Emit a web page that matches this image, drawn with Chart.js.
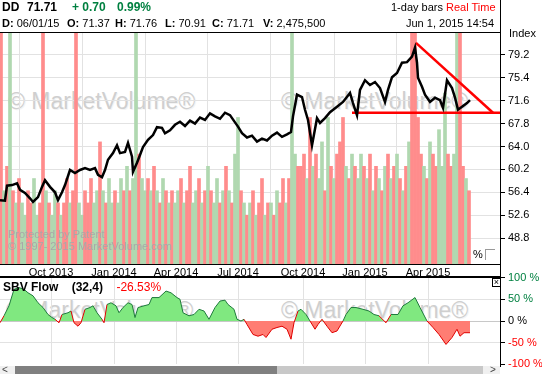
<!DOCTYPE html>
<html>
<head>
<meta charset="utf-8">
<script src="https://cdn.jsdelivr.net/npm/chart.js@4.4.1/dist/chart.umd.min.js"></script>
<style>
  body { margin: 0; width: 542px; height: 374px; position: relative; overflow: hidden; background: #fff;
         font-family: "Liberation Sans", Arial, sans-serif; }
  .abs { position: absolute; white-space: nowrap; line-height: 1; }
  canvas { position: absolute; left: 0; }
  .wm { position: absolute; font-size: 23px; color: #cfcfcf; text-shadow: 1px 1px 0 #f4f4f4; white-space: nowrap; }
  .b { font-weight: bold; }
</style>
</head>
<body>
<div class="wm" style="left:8px;top:88px">© MarketVolume®</div>
<div class="wm" style="left:281px;top:88px">© MarketVolume®</div>
<div class="wm" style="left:6px;top:297px">© MarketVolume®</div>
<div class="wm" style="left:281px;top:297px">© MarketVolume®</div>

<canvas id="price-chart" width="542" height="277" style="top:0"></canvas>
<canvas id="sbv-chart" width="542" height="106" style="top:268px"></canvas>

<!-- header -->
<div class="abs b" style="left:2px;top:1px;font-size:12px">DD</div>
<div class="abs b" style="left:27px;top:1px;font-size:12px">71.71</div>
<div class="abs b" style="left:72px;top:1px;font-size:12px;color:#008040">+ 0.70</div>
<div class="abs b" style="left:117px;top:1px;font-size:12px;color:#008040">0.99%</div>
<div class="abs" style="left:2px;top:18px;font-size:11px"><b>D:</b> 06/01/15</div>
<div class="abs" style="left:67px;top:18px;font-size:11px"><b>O:</b> 71.37</div>
<div class="abs" style="left:115px;top:18px;font-size:11px"><b>H:</b> 71.76</div>
<div class="abs" style="left:165px;top:18px;font-size:11px"><b>L:</b> 70.91</div>
<div class="abs" style="left:212px;top:18px;font-size:11px"><b>C:</b> 71.71</div>
<div class="abs" style="left:263px;top:18px;font-size:11px"><b>V:</b> 2,475,500</div>
<div class="abs" style="left:391px;top:2px;font-size:11px">1-day bars <span style="color:#ff0000">Real Time</span></div>
<div class="abs" style="left:406px;top:18px;font-size:11px">Jun 1, 2015 14:54</div>
<div class="abs" style="left:509px;top:28px;font-size:11px">Index</div>

<div class="abs" style="left:8px;top:229px;font-size:11px;color:#a8a8a8">Protected by Patent</div>
<div class="abs" style="left:8px;top:241px;font-size:11px;color:#a8a8a8">© 1997- 2015 MarketVolume.com</div>
<div class="abs" style="left:473px;top:249px;font-size:11px">%</div>
<div class="abs" style="left:485px;top:249px;width:9px;height:10px;border:1px solid #999;border-right:0;border-bottom:0;background:#fff"></div>

<div class="abs" style="left:3px;top:281px;font-size:12px"><b>SBV Flow</b>&nbsp;&nbsp;&nbsp; <b>(32,4)</b>&nbsp;&nbsp;&nbsp; <span style="color:#ff0000">-26.53%</span></div>
<div class="abs" style="left:492px;top:278px;width:7px;height:7px;border:1px solid #000;font-size:9px;text-align:center;line-height:7px;background:#fff">×</div>

<!-- frame -->
<div class="abs" style="left:0;top:32px;width:501px;height:1px;background:#000"></div>
<div class="abs" style="left:500px;top:0;width:1px;height:367px;background:#000"></div>
<div class="abs" style="left:0;top:276px;width:501px;height:2px;background:#000"></div>

<!-- scrollbar -->
<div class="abs" style="left:0;top:366px;width:500px;height:8px;background:#f0f0f0"></div>
<div class="abs" style="left:15px;top:366px;width:262px;height:8px;background:#808080"></div>
<div class="abs" style="left:277px;top:366px;width:206px;height:8px;background:#c8c8c8"></div>
<div class="abs" style="left:2px;top:365px;font-size:10px;color:#444">&lt;</div>
<div class="abs" style="left:490px;top:365px;font-size:10px;color:#444">&gt;</div>

<script>
// trading-day index on x, ~1 px per day
const monthTickDays = [51, 114, 176, 238, 303, 365, 428];
const monthTickLabels = ["Oct 2013", "Jan 2014", "Apr 2014", "Jul 2014", "Oct 2014", "Jan 2015", "Apr 2015"];
const priceTicks = [48.8, 52.6, 56.4, 60.2, 64.0, 67.8, 71.6, 75.4, 79.2];
const sbvTicks = [-100, -50, 0, 50, 100];

const priceDay = [0, 5, 7, 12, 17, 20, 25, 30, 33, 38, 42, 45, 50, 55, 58, 62, 65, 70, 75, 80,
  85, 90, 95, 98, 102, 105, 108, 113, 117, 120, 125, 128, 132, 133, 137, 140, 143, 148, 153, 157,
  162, 165, 170, 175, 180, 185, 190, 195, 200, 205, 210, 215, 220, 225, 230, 235, 238, 242, 247, 252,
  257, 262, 267, 272, 277, 282, 287, 291, 293, 297, 302, 305, 308, 312, 317, 320, 325, 330, 337, 343,
  350, 353, 357, 360, 365, 370, 375, 380, 385, 388, 392, 397, 402, 407, 412, 415, 417, 418, 422, 425,
  430, 435, 440, 443, 447, 452, 455, 458, 462, 467, 470];
const priceClose = [55.1, 55.0, 57.5, 57.6, 57.9, 56.8, 56.3, 55.4, 54.8, 55.6, 57.3, 58.4, 57.3, 56.4, 55.1, 56.4, 57.6, 60.1, 59.6, 60.1,
  60.4, 60.1, 60.4, 59.3, 58.9, 60.1, 61.8, 62.9, 64.2, 62.9, 63.1, 64.6, 62.3, 59.8, 61.3, 62.6, 63.9, 65.1, 65.9, 67.2,
  67.1, 66.2, 66.7, 67.6, 68.1, 67.4, 68.3, 67.8, 68.8, 68.4, 69.5, 69.0, 68.6, 69.6, 69.2, 68.0, 67.3, 66.2, 65.5, 65.8,
  64.8, 65.3, 65.0, 65.8, 66.3, 65.6, 66.0, 66.4, 69.0, 72.6, 72.2, 70.1, 68.4, 64.2, 68.7, 67.9, 68.7, 69.7, 70.6, 71.4,
  72.9, 71.2, 69.2, 73.4, 75.0, 74.2, 74.7, 73.7, 71.4, 73.4, 75.5, 76.2, 77.9, 78.0, 78.9, 80.4, 77.9, 75.4, 73.9, 72.6,
  71.4, 72.1, 71.7, 70.4, 75.0, 73.7, 72.1, 70.1, 70.6, 71.2, 71.7];

// red trend lines
const supportDay = [352, 500];
const supportLevel = [69.6, 69.6];
const resistDay = [416, 493];
const resistLevel = [81.2, 69.6];

// volume in millions, one bar per 3 trading days; u = up day, d = down day
const volume = [22, 6, 8, 22, 6, 5, 7, 5, 4, 6,
  5, 7, 4, 5, 22, 6, 5, 4, 6, 5,
  4, 5, 7, 5, 6, 22, 5, 4, 6, 5,
  7, 5, 6, 10, 6, 5, 7, 5, 6, 5,
  7, 6, 8, 6, 7, 22, 9, 7, 6, 7,
  6, 8, 6, 5, 7, 6, 5, 6, 5, 6,
  7, 5, 6, 8, 5, 6, 7, 5, 6, 8,
  6, 5, 7, 5, 6, 8, 6, 5, 9, 12,
  6, 5, 4, 5, 6, 4, 5, 7, 4, 5,
  5, 4, 6, 5, 7, 5, 7, 22, 9, 8,
  8, 9, 7, 12, 8, 9, 7, 10, 6, 12,
  8, 7, 9, 10, 12, 8, 7, 9, 8, 7,
  9, 8, 7, 9, 6, 8, 7, 6, 8, 9,
  7, 8, 9, 7, 6, 8, 10, 22, 22, 12,
  9, 8, 7, 10, 9, 8, 11, 8, 14, 9,
  8, 9, 22, 22, 8, 7, 6];
const volDir = "dudududuud" + "duudduduud" + "uddudduudd" + "duududuudu" + "ududuuduud" +
  "ududududuu" + "dudduududu" + "duudududuu" + "dudududdud" + "ududduduud" +
  "ddududuudu" + "dudddududu" + "ududududud" + "ududududdd" + "dududduuud" + "duuddud";

const sbvDay = [0, 4, 9, 14, 19, 24, 28, 33, 38, 43, 48, 52, 55, 59, 62, 68, 71, 74, 78, 81,
  85, 90, 93, 97, 102, 104, 107, 111, 116, 119, 123, 128, 132, 135, 138, 144, 149, 152, 159, 166,
  171, 177, 180, 183, 189, 194, 199, 204, 209, 215, 220, 225, 228, 234, 237, 241, 244, 247, 253, 258,
  263, 266, 272, 277, 282, 287, 291, 294, 298, 301, 306, 310, 315, 318, 322, 327, 332, 337, 343, 346,
  351, 356, 363, 369, 374, 379, 386, 391, 398, 403, 408, 415, 420, 427, 433, 439, 446, 452, 457, 460,
  464, 470];
const sbvValue = [-4, 12, 35, 73, 77, 73, 65, 58, 42, 31, 15, 8, 4, -4, 15, 19, 23, -4, -12, -4,
  27, 31, 35, 19, 4, -4, 38, 42, 35, 19, 31, 42, 38, 8, 31, 35, 38, 54, 54, 69,
  65, 54, 50, 19, 12, 15, 27, 23, 4, 31, 46, 48, 38, 27, 4, 0, 4, -8, -31, -35,
  -31, -38, -19, -15, -12, -19, -42, -4, 23, 27, 15, 0, -19, -8, 4, -12, -27, -23, 0, 15,
  31, 31, 27, 23, 15, 12, -4, 15, 15, 35, 42, 54, 31, 0, -15, -31, -54, -38, -19, -35,
  -27, -27];

const FONT = { family: "'Liberation Sans', Arial, sans-serif", size: 11 };
const GRID = "#e2e2e2";
const VOL_UP = "rgb(176,216,176)";
const VOL_DOWN = "rgb(255,140,140)";

function xy(xs, ys) {
  return xs.map((x, i) => ({ x: x, y: ys[i] }));
}

function monthTicks(scale) {
  scale.ticks = monthTickDays.map((v) => ({ value: v }));
}

function initPriceChart() {
  const ctx = document.getElementById("price-chart");
  const volData = volume.map((v, i) => ({ x: i * 3 + 1, y: v }));
  const volColors = volume.map((v, i) => (volDir[i] === "u" ? VOL_UP : VOL_DOWN));

  new Chart(ctx, {
    type: "bar",
    data: {
      datasets: [
        {
          type: "line", label: "DD", data: xy(priceDay, priceClose), yAxisID: "y",
          borderColor: "#000", borderWidth: 2.5, pointRadius: 0, tension: 0, order: 0
        },
        {
          type: "line", label: "support", data: xy(supportDay, supportLevel), yAxisID: "y",
          borderColor: "#ff0000", borderWidth: 2.5, pointRadius: 0, order: 1
        },
        {
          type: "line", label: "resistance", data: xy(resistDay, resistLevel), yAxisID: "y",
          borderColor: "#ff0000", borderWidth: 2.5, pointRadius: 0, order: 1
        },
        {
          type: "bar", label: "Volume", data: volData, yAxisID: "yv",
          backgroundColor: volColors, barThickness: 3, order: 2
        }
      ]
    },
    options: {
      responsive: false,
      animation: false,
      layout: { padding: { top: 32, left: 0, right: 0, bottom: 0 } },
      plugins: { legend: { display: false }, tooltip: { enabled: false } },
      scales: {
        x: {
          type: "linear", min: 0, max: 500, offset: false,
          afterBuildTicks: monthTicks,
          afterFit: (s) => { s.height = 13; },
          ticks: {
            color: "#000", font: FONT, padding: 2, maxRotation: 0, autoSkip: false,
            callback: (v) => monthTickLabels[monthTickDays.indexOf(v)]
          },
          grid: { color: GRID, drawTicks: false },
          border: { color: "#000", width: 1 }
        },
        y: {
          position: "right", min: 44.5, max: 83.0,
          afterBuildTicks: (s) => { s.ticks = priceTicks.map((v) => ({ value: v })); },
          afterFit: (s) => { s.width = 42; },
          ticks: { color: "#000", font: FONT, padding: 3, callback: (v) => v.toFixed(1) },
          grid: { color: GRID, tickColor: "#000", tickLength: 5 },
          border: { color: "#000" }
        },
        yv: { display: false, min: 0, max: 19 }
      }
    }
  });
}

function initSbvChart() {
  const ctx = document.getElementById("sbv-chart");
  new Chart(ctx, {
    type: "line",
    data: {
      datasets: [{
        label: "SBV Flow",
        data: xy(sbvDay, sbvValue),
        borderWidth: 1,
        pointRadius: 0,
        tension: 0,
        fill: { target: "origin", above: "rgb(128,232,128)", below: "rgb(255,125,115)" },
        segment: {
          borderColor: (c) => (c.p0.parsed.y < 0 || c.p1.parsed.y < 0 ? "#e00000" : "#1f7a3c")
        }
      }]
    },
    options: {
      responsive: false,
      animation: false,
      layout: { padding: { top: 9, left: 0, right: 0, bottom: 8 } },
      plugins: { legend: { display: false }, tooltip: { enabled: false } },
      scales: {
        x: {
          type: "linear", min: 0, max: 500,
          afterBuildTicks: monthTicks,
          afterFit: (s) => { s.height = 0; },
          ticks: { display: false },
          grid: { color: GRID, drawTicks: false },
          border: { display: false }
        },
        y: {
          position: "right", min: -100, max: 100,
          afterBuildTicks: (s) => { s.ticks = sbvTicks.map((v) => ({ value: v })); },
          afterFit: (s) => { s.width = 42; },
          ticks: {
            font: FONT, padding: 3,
            color: (c) => (c.tick.value > 0 ? "#008040" : c.tick.value < 0 ? "#ff0000" : "#000"),
            callback: (v) => v + " %"
          },
          grid: {
            color: (c) => (Math.abs(c.tick.value) === 100 ? "rgba(0,0,0,0)" : c.tick.value === 0 ? "#c8c8c8" : GRID),
            tickColor: "#000", tickLength: 5
          },
          border: { color: "#000" }
        }
      }
    }
  });
}

initPriceChart();
initSbvChart();
</script>
</body>
</html>
